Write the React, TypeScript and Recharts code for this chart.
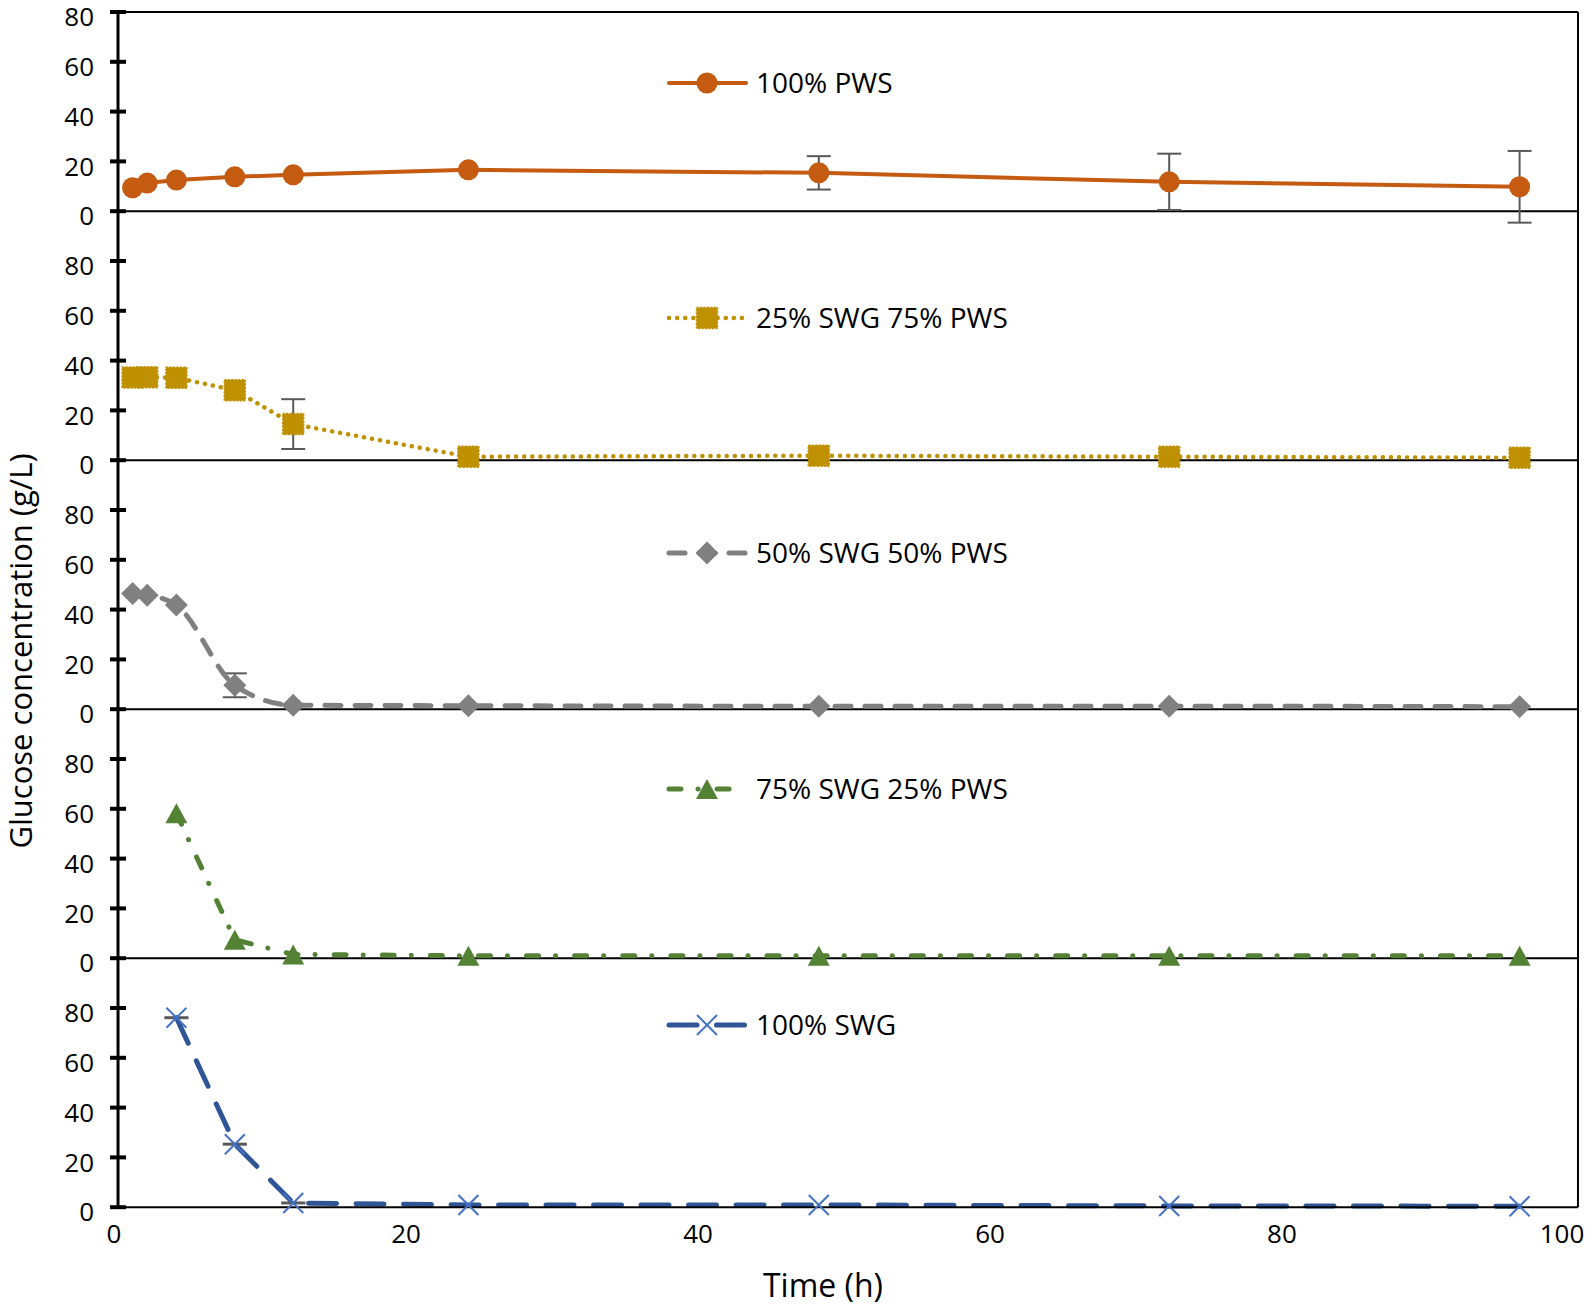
import React from "react";
import { LineChart, Line, XAxis, YAxis, ReferenceLine, ErrorBar, Legend } from "recharts";

// sampling times (h)
const timesAll = [1, 2, 4, 8, 12, 24, 48, 72, 96];
const timesLate = [4, 8, 12, 24, 48, 72, 96];

// glucose concentration (g/L)
const pws100 = [9.4, 11.3, 12.5, 13.8, 14.6, 16.6, 15.4, 11.8, 9.8];
const pws100Err = [0, 0, 0, 0, 0, 0, 6.7, 11.3, 14.4];

const swg25pws75 = [33.2, 33.3, 33.1, 28.1, 14.5, 1.4, 1.8, 1.4, 1.0];
const swg25pws75Err = [0, 0, 0, 0, 10, 0, 0, 0, 0];

const swg50pws50 = [46.5, 45.8, 41.8, 9.6, 1.6, 1.4, 1.2, 1.2, 1.0];
const swg50pws50Err = [0, 0, 0, 4.8, 0, 0, 0, 0, 0];

const swg75pws25 = [58.2, 7.4, 1.5, 1.0, 1.0, 1.0, 1.0];
const swg75pws25Err = [0, 0, 0, 0, 0, 0, 0];

const swg100 = [76.1, 25.3, 1.7, 0.9, 0.9, 0.5, 0.4];
const swg100Err = [0.2, 0.2, 0.2, 0, 0, 0, 0];

const yTicks = [0, 20, 40, 60, 80];
const xTicks = [0, 20, 40, 60, 80, 100];

const FONT = "'Open Sans', sans-serif";
const W = 1594;
const PX_PER_UNIT = 2.49;
const TOP = 12;
const M_TOP = 20;
const M_BOTTOM = 20;
const AXIS_W = 118;

type Kind = "circle" | "square" | "diamond" | "triangle" | "cross";

interface Series {
  name: string;
  times: number[];
  values: number[];
  errors: number[];
  color: string;
  markColor: string;
  dash?: string;
  strokeWidth: number;
  kind: Kind;
  curve: "linear" | "monotone";
  legendY: number;
}

const series: Series[] = [
  { name: "100% PWS", times: timesAll, values: pws100, errors: pws100Err, color: "#C55A11", markColor: "#C55A11", strokeWidth: 4, kind: "circle", curve: "linear", legendY: 83 },
  { name: "25% SWG 75% PWS", times: timesAll, values: swg25pws75, errors: swg25pws75Err, color: "#BF9000", markColor: "#BF9000", dash: "0.1 8", strokeWidth: 4.5, kind: "square", curve: "linear", legendY: 318 },
  { name: "50% SWG 50% PWS", times: timesAll, values: swg50pws50, errors: swg50pws50Err, color: "#808080", markColor: "#808080", dash: "16 14", strokeWidth: 5, kind: "diamond", curve: "monotone", legendY: 553 },
  { name: "75% SWG 25% PWS", times: timesLate, values: swg75pws25, errors: swg75pws25Err, color: "#548235", markColor: "#548235", dash: "12 17 0.1 19", strokeWidth: 5, kind: "triangle", curve: "linear", legendY: 789 },
  { name: "100% SWG", times: timesLate, values: swg100, errors: swg100Err, color: "#2F5597", markColor: "#4472C4", dash: "28 19.5", strokeWidth: 5, kind: "cross", curve: "linear", legendY: 1025 },
];

function Marker({ cx, cy, kind, color }: { cx: number; cy: number; kind: Kind; color: string }) {
  switch (kind) {
    case "circle":
      return <circle cx={cx} cy={cy} r={10.5} fill={color} />;
    case "square":
      return (
        <rect x={cx - 10.5} y={cy - 10.5} width={21} height={21} fill={color}
          stroke={color} strokeWidth={1.5} strokeDasharray="2 1.5" />
      );
    case "diamond":
      return <polygon points={`${cx},${cy - 11.5} ${cx + 11.5},${cy} ${cx},${cy + 11.5} ${cx - 11.5},${cy}`} fill={color} />;
    case "triangle":
      return <polygon points={`${cx},${cy - 10} ${cx + 11},${cy + 10} ${cx - 11},${cy + 10}`} fill={color} />;
    default:
      return (
        <g stroke={color} strokeWidth={2}>
          <line x1={cx - 10} y1={cy - 10} x2={cx + 10} y2={cy + 10} />
          <line x1={cx - 10} y1={cy + 10} x2={cx + 10} y2={cy - 10} />
        </g>
      );
  }
}

function YTick(props: any) {
  const { x, y, payload } = props;
  const axisX = x + 24; // tickSize 0 + tickMargin 24
  return (
    <g>
      <line x1={axisX - 8} x2={axisX + 8} y1={y} y2={y} stroke="#000" strokeWidth={4} />
      <text x={x} y={y + 5} dy="0.355em" textAnchor="end" fontSize={26} fontFamily={FONT} fill="#000">
        {payload.value}
      </text>
    </g>
  );
}

function XTick(props: any) {
  const { x, y, payload, index } = props;
  // labels sit a little left of their ticks; the last one is pulled in to stay on the page
  const shift = index === xTicks.length - 1 ? -16 : -4;
  return (
    <text x={x + shift} y={y} dy="0.71em" textAnchor="middle" fontSize={26} fontFamily={FONT} fill="#000">
      {payload.value}
    </text>
  );
}

function LegendItem({ s }: { s: Series }) {
  return (
    <svg width={380} height={40} style={{ display: "block", overflow: "visible" }}>
      <line x1={0} x2={77} y1={20} y2={20} stroke={s.color} strokeWidth={s.strokeWidth}
        strokeDasharray={s.dash} strokeLinecap="round" />
      <Marker cx={38} cy={20} kind={s.kind} color={s.markColor} />
      <text x={87} y={20} dy="0.355em" fontSize={28} fontFamily={FONT} fill="#000">{s.name}</text>
    </svg>
  );
}

function Panel({ s, index, last }: { s: Series; index: number; last: boolean }) {
  const domain: [number, number] = last ? [0, 80] : [-20, 80];
  const plotH = (domain[1] - domain[0]) * PX_PER_UNIT;
  const axisH = last ? 40 : 0;
  const height = M_TOP + plotH + axisH + M_BOTTOM;
  const top = TOP + index * 100 * PX_PER_UNIT - M_TOP;
  const data = s.times.map((t, i) => ({ t, v: s.values[i], err: s.errors[i] }));

  const renderDot = (props: any) => {
    const { cx, cy, index: i } = props;
    if (cx == null || cy == null) return <g key={`d-${i}`} />;
    return (
      <g key={`d-${i}`}>
        <Marker cx={cx} cy={cy} kind={s.kind} color={s.markColor} />
      </g>
    );
  };

  return (
    <div style={{ position: "absolute", left: 0, top }}>
      <LineChart width={W} height={height} data={data}
        margin={{ top: M_TOP, right: 16, left: 0, bottom: M_BOTTOM }}>
        <XAxis type="number" dataKey="t" domain={[0, 100]} ticks={xTicks} interval={0}
          hide={!last} height={axisH || 1}
          axisLine={{ stroke: "#000", strokeWidth: 2 }} tickLine={false} tickSize={0} tickMargin={17}
          tick={XTick} />
        <YAxis type="number" domain={domain} ticks={yTicks} interval={0} width={AXIS_W}
          axisLine={{ stroke: "#000", strokeWidth: 3 }} tickLine={false} tickSize={0} tickMargin={24}
          tick={YTick} />
        {!last && <ReferenceLine y={0} stroke="#000" strokeWidth={2} />}
        {index === 0 && <ReferenceLine y={80} stroke="#000" strokeWidth={2} />}
        <ReferenceLine x={100} stroke="#000" strokeWidth={2} />
        <Legend layout="horizontal" verticalAlign="middle" align="center"
          wrapperStyle={{ left: 669, top: s.legendY - top - 20, width: "auto", height: "auto" }}
          content={() => <LegendItem s={s} />} />
        <Line type={s.curve} dataKey="v" name={s.name} stroke={s.color} strokeWidth={s.strokeWidth}
          strokeDasharray={s.dash} strokeLinecap="round" dot={renderDot} activeDot={false}
          isAnimationActive={false}>
          <ErrorBar dataKey="err" direction="y" width={12} strokeWidth={2} stroke="#595959" />
        </Line>
      </LineChart>
    </div>
  );
}

export default function App() {
  return (
    <div style={{ position: "absolute", left: 0, top: 0, width: W, height: 1307, background: "#fff", fontFamily: FONT }}>
      <svg width={W} height={1307} style={{ position: "absolute", left: 0, top: 0 }}>
        <text transform="translate(21,651) rotate(-90)" textAnchor="middle" dy="0.355em"
          fontSize={31} fontFamily={FONT} fill="#000">Glucose concentration (g/L)</text>
        <text x={823} y={1286} textAnchor="middle" dy="0.355em" fontSize={32} fontFamily={FONT} fill="#000">
          Time (h)
        </text>
      </svg>
      {series.map((s, i) => (
        <Panel key={s.name} s={s} index={i} last={i === series.length - 1} />
      ))}
    </div>
  );
}
